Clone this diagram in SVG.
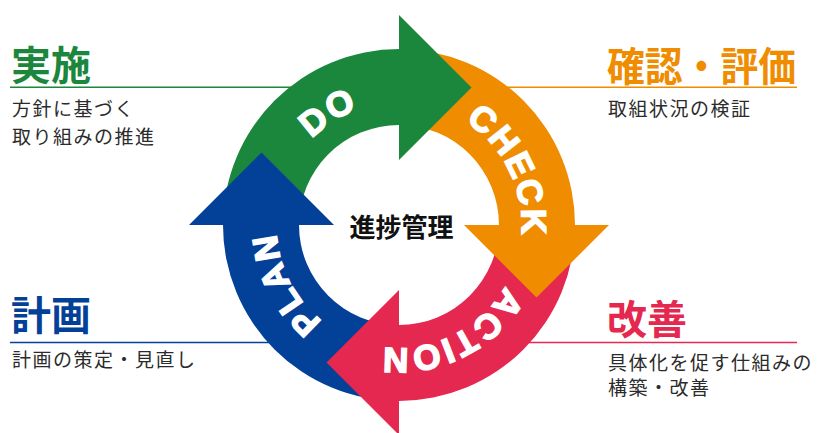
<svg xmlns="http://www.w3.org/2000/svg" width="823" height="433" viewBox="0 0 823 433">
  <style>
    .jp { font-family: "Noto Sans CJK JP", "Noto Sans", sans-serif; }
    .title { font-weight: 700; font-size: 40px; }
    .sub { font-weight: 400; font-size: 19px; fill: #2b2b2b; letter-spacing: 1.5px; }
    .ring { font-family: "Liberation Sans", Arial, sans-serif; font-weight: 700; font-size: 35px; fill: #fff; stroke: #fff; stroke-width: 1.6px; letter-spacing: 2px; text-anchor: middle; }
    .line { stroke-width: 1.4; fill: none; }
    .g { fill: #1b873d; } .o { fill: #ef8c00; } .r { fill: #e5284f; } .b { fill: #034098; }
  </style>
  <defs>
    <path id="tp" d="M283.89,183.10 A122.5,122.5 0 1 1 514.11,266.90 A122.5,122.5 0 1 1 283.89,183.10"/>
  </defs>
  <rect width="823" height="433" fill="#fff"/>

  <g id="connectors">
    <line class="line" x1="10" y1="87.3" x2="300" y2="87.3" stroke="#1b873d"/>
    <line class="line" x1="480" y1="87.3" x2="797" y2="87.3" stroke="#ef8c00"/>
    <line class="line" x1="10" y1="342.5" x2="320" y2="342.5" stroke="#034098"/>
    <line class="line" x1="480" y1="342.5" x2="797" y2="342.5" stroke="#e5284f"/>
  </g>

  <g id="cycle">
    <g id="do-body"><path class="g" d="M223,225 A176,176 0 0 1 399,49 L399,125 A100,100 0 0 0 299,225 Z"/></g>
    <g id="check-body"><path class="o" d="M399,49 A176,176 0 0 1 575,225 L499,225 A100,100 0 0 0 399,125 Z"/></g>
    <g id="action-body"><path class="r" d="M575,225 A176,176 0 0 1 399,401 L399,325 A100,100 0 0 0 499,225 Z"/></g>
    <g id="plan-body"><path class="b" d="M399,401 A176,176 0 0 1 223,225 L299,225 A100,100 0 0 0 399,325 Z"/></g>
    <g id="do-head"><polygon class="g" points="399,15 471.5,87.5 399,160"/></g>
    <g id="check-head"><polygon class="o" points="609,225 536.5,297.5 464,225"/></g>
    <g id="action-head"><polygon class="r" points="399,435 326.5,362.5 399,290"/></g>
    <g id="plan-head"><polygon class="b" points="189,225 261.5,152.5 334,225"/></g>
    <text class="ring"><textPath href="#tp" startOffset="81">DO</textPath></text>
    <text class="ring"><textPath href="#tp" startOffset="287">CHECK</textPath></text>
    <text class="ring"><textPath href="#tp" startOffset="480">ACTION</textPath></text>
    <text class="ring"><textPath href="#tp" startOffset="670">PLAN</textPath></text>
  </g>

  <g id="center">
    <text class="jp" x="401.5" y="237" font-size="26" font-weight="700" text-anchor="middle" fill="#111">進捗管理</text>
  </g>

  <g id="label-do">
    <text class="jp title g" x="11" y="80">実施</text>
    <text class="jp sub" x="12" y="116">方針に基づく</text>
    <text class="jp sub" x="12" y="143.5">取り組みの推進</text>
  </g>
  <g id="label-check">
    <text class="jp title o" x="607" y="81" font-size="37" textLength="189" lengthAdjust="spacingAndGlyphs">確認・評価</text>
    <text class="jp sub" x="608" y="116">取組状況の検証</text>
  </g>
  <g id="label-plan">
    <text class="jp title b" x="11" y="330">計画</text>
    <text class="jp sub" x="12" y="366.5">計画の策定・見直し</text>
  </g>
  <g id="label-action">
    <text class="jp title r" x="607" y="334">改善</text>
    <text class="jp sub" x="608" y="370">具体化を促す仕組みの</text>
    <text class="jp sub" x="608" y="395">構築・改善</text>
  </g>
</svg>
